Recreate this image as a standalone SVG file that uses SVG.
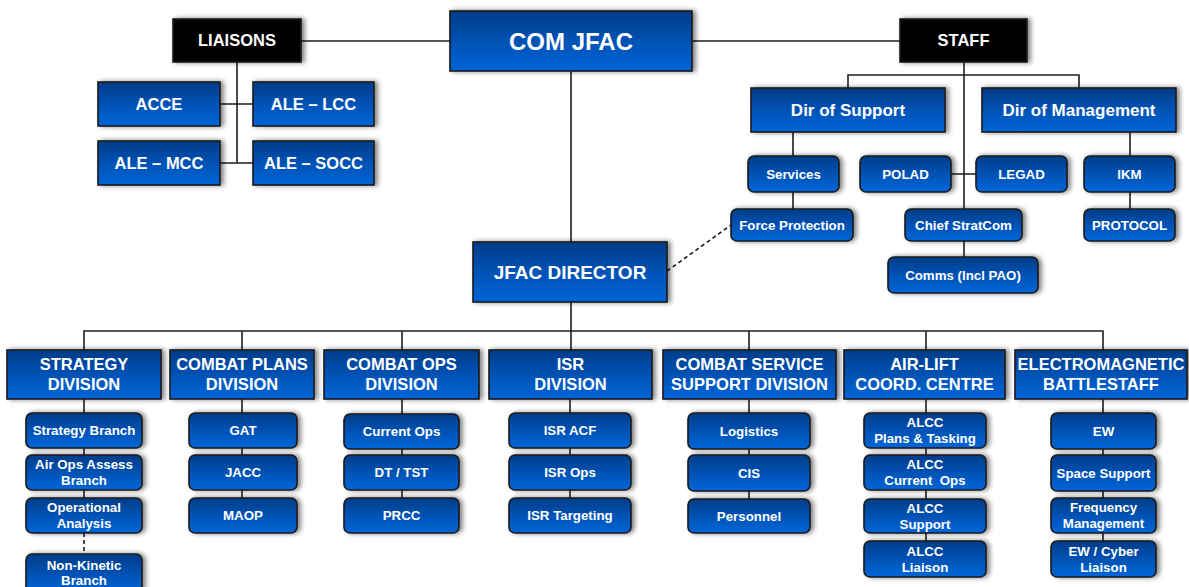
<svg xmlns="http://www.w3.org/2000/svg" width="1189" height="587" viewBox="0 0 1189 587">
  <defs>
    <linearGradient id="blue" x1="0" y1="0" x2="0" y2="1">
      <stop offset="0" stop-color="#003c88"/>
      <stop offset="0.5" stop-color="#0052b4"/>
      <stop offset="1" stop-color="#0066d8"/>
    </linearGradient>
    <filter id="shadow" x="-10%" y="-30%" width="125%" height="170%">
      <feGaussianBlur in="SourceAlpha" stdDeviation="2.8"/>
      <feOffset dx="3" dy="0" result="b"/>
      <feComponentTransfer><feFuncA type="linear" slope="0.5"/></feComponentTransfer>
      <feMerge><feMergeNode/><feMergeNode in="SourceGraphic"/></feMerge>
    </filter>
    <style>
      .box{fill:url(#blue);stroke:#1a1a1a;stroke-width:1.6;filter:url(#shadow)}
      .blk{fill:#000;stroke:#1a1a1a;stroke-width:1.6;filter:url(#shadow)}
      .t{font-family:"Liberation Sans",Arial,sans-serif;font-weight:bold;fill:#fff;text-anchor:middle}
      .xl{font-size:24px}
      .lg{font-size:19px}
      .md{font-size:16.5px}
      .sm{font-size:13.3px}
      .wire{stroke:#1e1e1e;stroke-width:1.6;fill:none}
      .dash{stroke-dasharray:4 3}
    </style>
  </defs>

  <!-- connectors -->
  <g id="connectors" class="wire">
    <path d="M301,41H450M692,41H900"/>
    <path d="M237,62V163M220,104H253M220,163H253"/>
    <path d="M964,62V209M848,88V75H1079V88M951,174H976"/>
    <path d="M793,132V156M793,192V209M1130,132V156M1130,192V209M964,241V257"/>
    <path d="M571,71V242M571,302V350"/>
    <path d="M84,350V331H1103V350M242,331V350M402,331V350M749,331V350M926,331V350"/>
    <path class="dash" d="M667,271L731,225"/>
    <!-- division branches -->
    <path d="M84,399V413M84,448V455M84,490V498"/>
    <path class="dash" d="M84,533V554"/>
    <path d="M242,399V413M242,448V455M242,490V498"/>
    <path d="M402,399V414M402,449V455M402,490V498"/>
    <path d="M570,399V413M570,448V455M570,490V498"/>
    <path d="M749,399V413M749,449V455M749,491V499"/>
    <path d="M926,399V413M926,448V455M926,490V499M926,533V541"/>
    <path d="M1103,399V413M1103,449V455M1103,491V498M1103,533V541"/>
  </g>

  <!-- top tier -->
  <g id="liaisons"><rect class="blk" x="173" y="19" width="128" height="43"/><text class="t md" x="237" y="46">LIAISONS</text></g>
  <g id="com-jfac"><rect class="box" x="450" y="11" width="242" height="60"/><text class="t xl" x="571" y="49.5">COM JFAC</text></g>
  <g id="staff"><rect class="blk" x="900" y="19" width="127" height="43"/><text class="t md" x="963.5" y="46">STAFF</text></g>

  <g id="acce"><rect class="box" x="98" y="82" width="122" height="44"/><text class="t md" x="159" y="110">ACCE</text></g>
  <g id="ale-lcc"><rect class="box" x="253" y="82" width="121" height="44"/><text class="t md" x="313.5" y="110">ALE – LCC</text></g>
  <g id="ale-mcc"><rect class="box" x="98" y="141" width="122" height="44"/><text class="t md" x="159" y="169">ALE – MCC</text></g>
  <g id="ale-socc"><rect class="box" x="253" y="141" width="121" height="44"/><text class="t md" x="313.5" y="169">ALE – SOCC</text></g>

  <g id="dir-support"><rect class="box" x="751" y="88" width="194" height="44"/><text class="t md" x="848" y="116" style="font-size:17px">Dir of Support</text></g>
  <g id="dir-management"><rect class="box" x="982" y="88" width="194" height="44"/><text class="t md" x="1079" y="116" style="font-size:17px">Dir of Management</text></g>

  <g id="services"><rect class="box" x="748" y="156" width="91" height="36" rx="6"/><text class="t sm" x="793.5" y="178.5">Services</text></g>
  <g id="polad"><rect class="box" x="860" y="156" width="91" height="36" rx="6"/><text class="t sm" x="905.5" y="178.5">POLAD</text></g>
  <g id="legad"><rect class="box" x="976" y="156" width="91" height="36" rx="6"/><text class="t sm" x="1021.5" y="178.5">LEGAD</text></g>
  <g id="ikm"><rect class="box" x="1084" y="156" width="91" height="36" rx="6"/><text class="t sm" x="1129.5" y="178.5">IKM</text></g>
  <g id="force-protection"><rect class="box" x="731" y="209" width="122" height="32" rx="6"/><text class="t sm" x="792" y="229.5">Force Protection</text></g>
  <g id="chief-stratcom"><rect class="box" x="905" y="209" width="117" height="32" rx="6"/><text class="t sm" x="963.5" y="229.5">Chief StratCom</text></g>
  <g id="protocol"><rect class="box" x="1084" y="209" width="91" height="32" rx="6"/><text class="t sm" x="1129.5" y="229.5">PROTOCOL</text></g>
  <g id="comms"><rect class="box" x="888" y="257" width="150" height="36" rx="6"/><text class="t sm" x="963" y="279.5">Comms (Incl PAO)</text></g>

  <g id="jfac-director"><rect class="box" x="473" y="242" width="194" height="60"/><text class="t lg" x="570" y="278.6">JFAC DIRECTOR</text></g>

  <!-- divisions -->
  <g id="div-strategy"><rect class="box" x="7" y="350" width="154" height="49"/><text class="t md" x="84" y="370">STRATEGY</text><text class="t md" x="84" y="390">DIVISION</text></g>
  <g id="div-combat-plans"><rect class="box" x="170" y="350" width="144" height="49"/><text class="t md" x="242" y="370">COMBAT PLANS</text><text class="t md" x="242" y="390">DIVISION</text></g>
  <g id="div-combat-ops"><rect class="box" x="324" y="350" width="155" height="49"/><text class="t md" x="401.5" y="370">COMBAT OPS</text><text class="t md" x="401.5" y="390">DIVISION</text></g>
  <g id="div-isr"><rect class="box" x="489" y="350" width="163" height="49"/><text class="t md" x="570.5" y="370">ISR</text><text class="t md" x="570.5" y="390">DIVISION</text></g>
  <g id="div-css"><rect class="box" x="663" y="350" width="173" height="49"/><text class="t md" x="749.5" y="370">COMBAT SERVICE</text><text class="t md" x="749.5" y="390">SUPPORT DIVISION</text></g>
  <g id="div-alcc"><rect class="box" x="844" y="350" width="161" height="49"/><text class="t md" x="924.5" y="370">AIR-LIFT</text><text class="t md" x="924.5" y="390">COORD. CENTRE</text></g>
  <g id="div-emb"><rect class="box" x="1015" y="350" width="172" height="49"/><text class="t md" x="1101" y="370">ELECTROMAGNETIC</text><text class="t md" x="1101" y="390">BATTLESTAFF</text></g>

  <!-- strategy branches -->
  <g id="strategy-branch"><rect class="box" x="26" y="413" width="116" height="35" rx="6"/><text class="t sm" x="84" y="435">Strategy Branch</text></g>
  <g id="air-ops-assess"><rect class="box" x="26" y="455" width="116" height="35" rx="6"/><text class="t sm" x="84" y="469">Air Ops Assess</text><text class="t sm" x="84" y="485">Branch</text></g>
  <g id="operational-analysis"><rect class="box" x="26" y="498" width="116" height="35" rx="6"/><text class="t sm" x="84" y="512">Operational</text><text class="t sm" x="84" y="528">Analysis</text></g>
  <g id="non-kinetic"><rect class="box" x="26" y="554" width="116" height="40" rx="6"/><text class="t sm" x="84" y="570">Non-Kinetic</text><text class="t sm" x="84" y="585">Branch</text></g>

  <!-- combat plans branches -->
  <g id="gat"><rect class="box" x="189" y="413" width="108" height="35" rx="6"/><text class="t sm" x="243" y="435">GAT</text></g>
  <g id="jacc"><rect class="box" x="189" y="455" width="108" height="35" rx="6"/><text class="t sm" x="243" y="477">JACC</text></g>
  <g id="maop"><rect class="box" x="189" y="498" width="108" height="35" rx="6"/><text class="t sm" x="243" y="520">MAOP</text></g>

  <!-- combat ops branches -->
  <g id="current-ops"><rect class="box" x="344" y="414" width="115" height="35" rx="6"/><text class="t sm" x="401.5" y="436">Current Ops</text></g>
  <g id="dt-tst"><rect class="box" x="344" y="455" width="115" height="35" rx="6"/><text class="t sm" x="401.5" y="477">DT / TST</text></g>
  <g id="prcc"><rect class="box" x="344" y="498" width="115" height="35" rx="6"/><text class="t sm" x="401.5" y="520">PRCC</text></g>

  <!-- ISR branches -->
  <g id="isr-acf"><rect class="box" x="509" y="413" width="122" height="35" rx="6"/><text class="t sm" x="570" y="435">ISR ACF</text></g>
  <g id="isr-ops"><rect class="box" x="509" y="455" width="122" height="35" rx="6"/><text class="t sm" x="570" y="477">ISR Ops</text></g>
  <g id="isr-targeting"><rect class="box" x="509" y="498" width="122" height="35" rx="6"/><text class="t sm" x="570" y="520">ISR Targeting</text></g>

  <!-- combat service support branches -->
  <g id="logistics"><rect class="box" x="688" y="413" width="122" height="36" rx="6"/><text class="t sm" x="749" y="435.5">Logistics</text></g>
  <g id="cis"><rect class="box" x="688" y="455" width="122" height="36" rx="6"/><text class="t sm" x="749" y="477.5">CIS</text></g>
  <g id="personnel"><rect class="box" x="688" y="499" width="122" height="34" rx="6"/><text class="t sm" x="749" y="520.5">Personnel</text></g>

  <!-- airlift branches -->
  <g id="alcc-plans"><rect class="box" x="864" y="413" width="122" height="35" rx="6"/><text class="t sm" x="925" y="427">ALCC</text><text class="t sm" x="925" y="443">Plans &amp; Tasking</text></g>
  <g id="alcc-current"><rect class="box" x="864" y="455" width="122" height="35" rx="6"/><text class="t sm" x="925" y="469">ALCC</text><text class="t sm" x="925" y="485" xml:space="preserve">Current  Ops</text></g>
  <g id="alcc-support"><rect class="box" x="864" y="499" width="122" height="34" rx="6"/><text class="t sm" x="925" y="512.5">ALCC</text><text class="t sm" x="925" y="528.5">Support</text></g>
  <g id="alcc-liaison"><rect class="box" x="864" y="541" width="122" height="36" rx="6"/><text class="t sm" x="925" y="555.5">ALCC</text><text class="t sm" x="925" y="571.5">Liaison</text></g>

  <!-- electromagnetic branches -->
  <g id="ew"><rect class="box" x="1051" y="413" width="105" height="36" rx="6"/><text class="t sm" x="1103.5" y="435.5">EW</text></g>
  <g id="space-support"><rect class="box" x="1051" y="455" width="105" height="36" rx="6"/><text class="t sm" x="1103.5" y="477.5">Space Support</text></g>
  <g id="frequency"><rect class="box" x="1051" y="498" width="105" height="35" rx="6"/><text class="t sm" x="1103.5" y="512">Frequency</text><text class="t sm" x="1103.5" y="528">Management</text></g>
  <g id="ew-cyber"><rect class="box" x="1051" y="541" width="105" height="36" rx="6"/><text class="t sm" x="1103.5" y="555.5">EW / Cyber</text><text class="t sm" x="1103.5" y="571.5">Liaison</text></g>
</svg>
